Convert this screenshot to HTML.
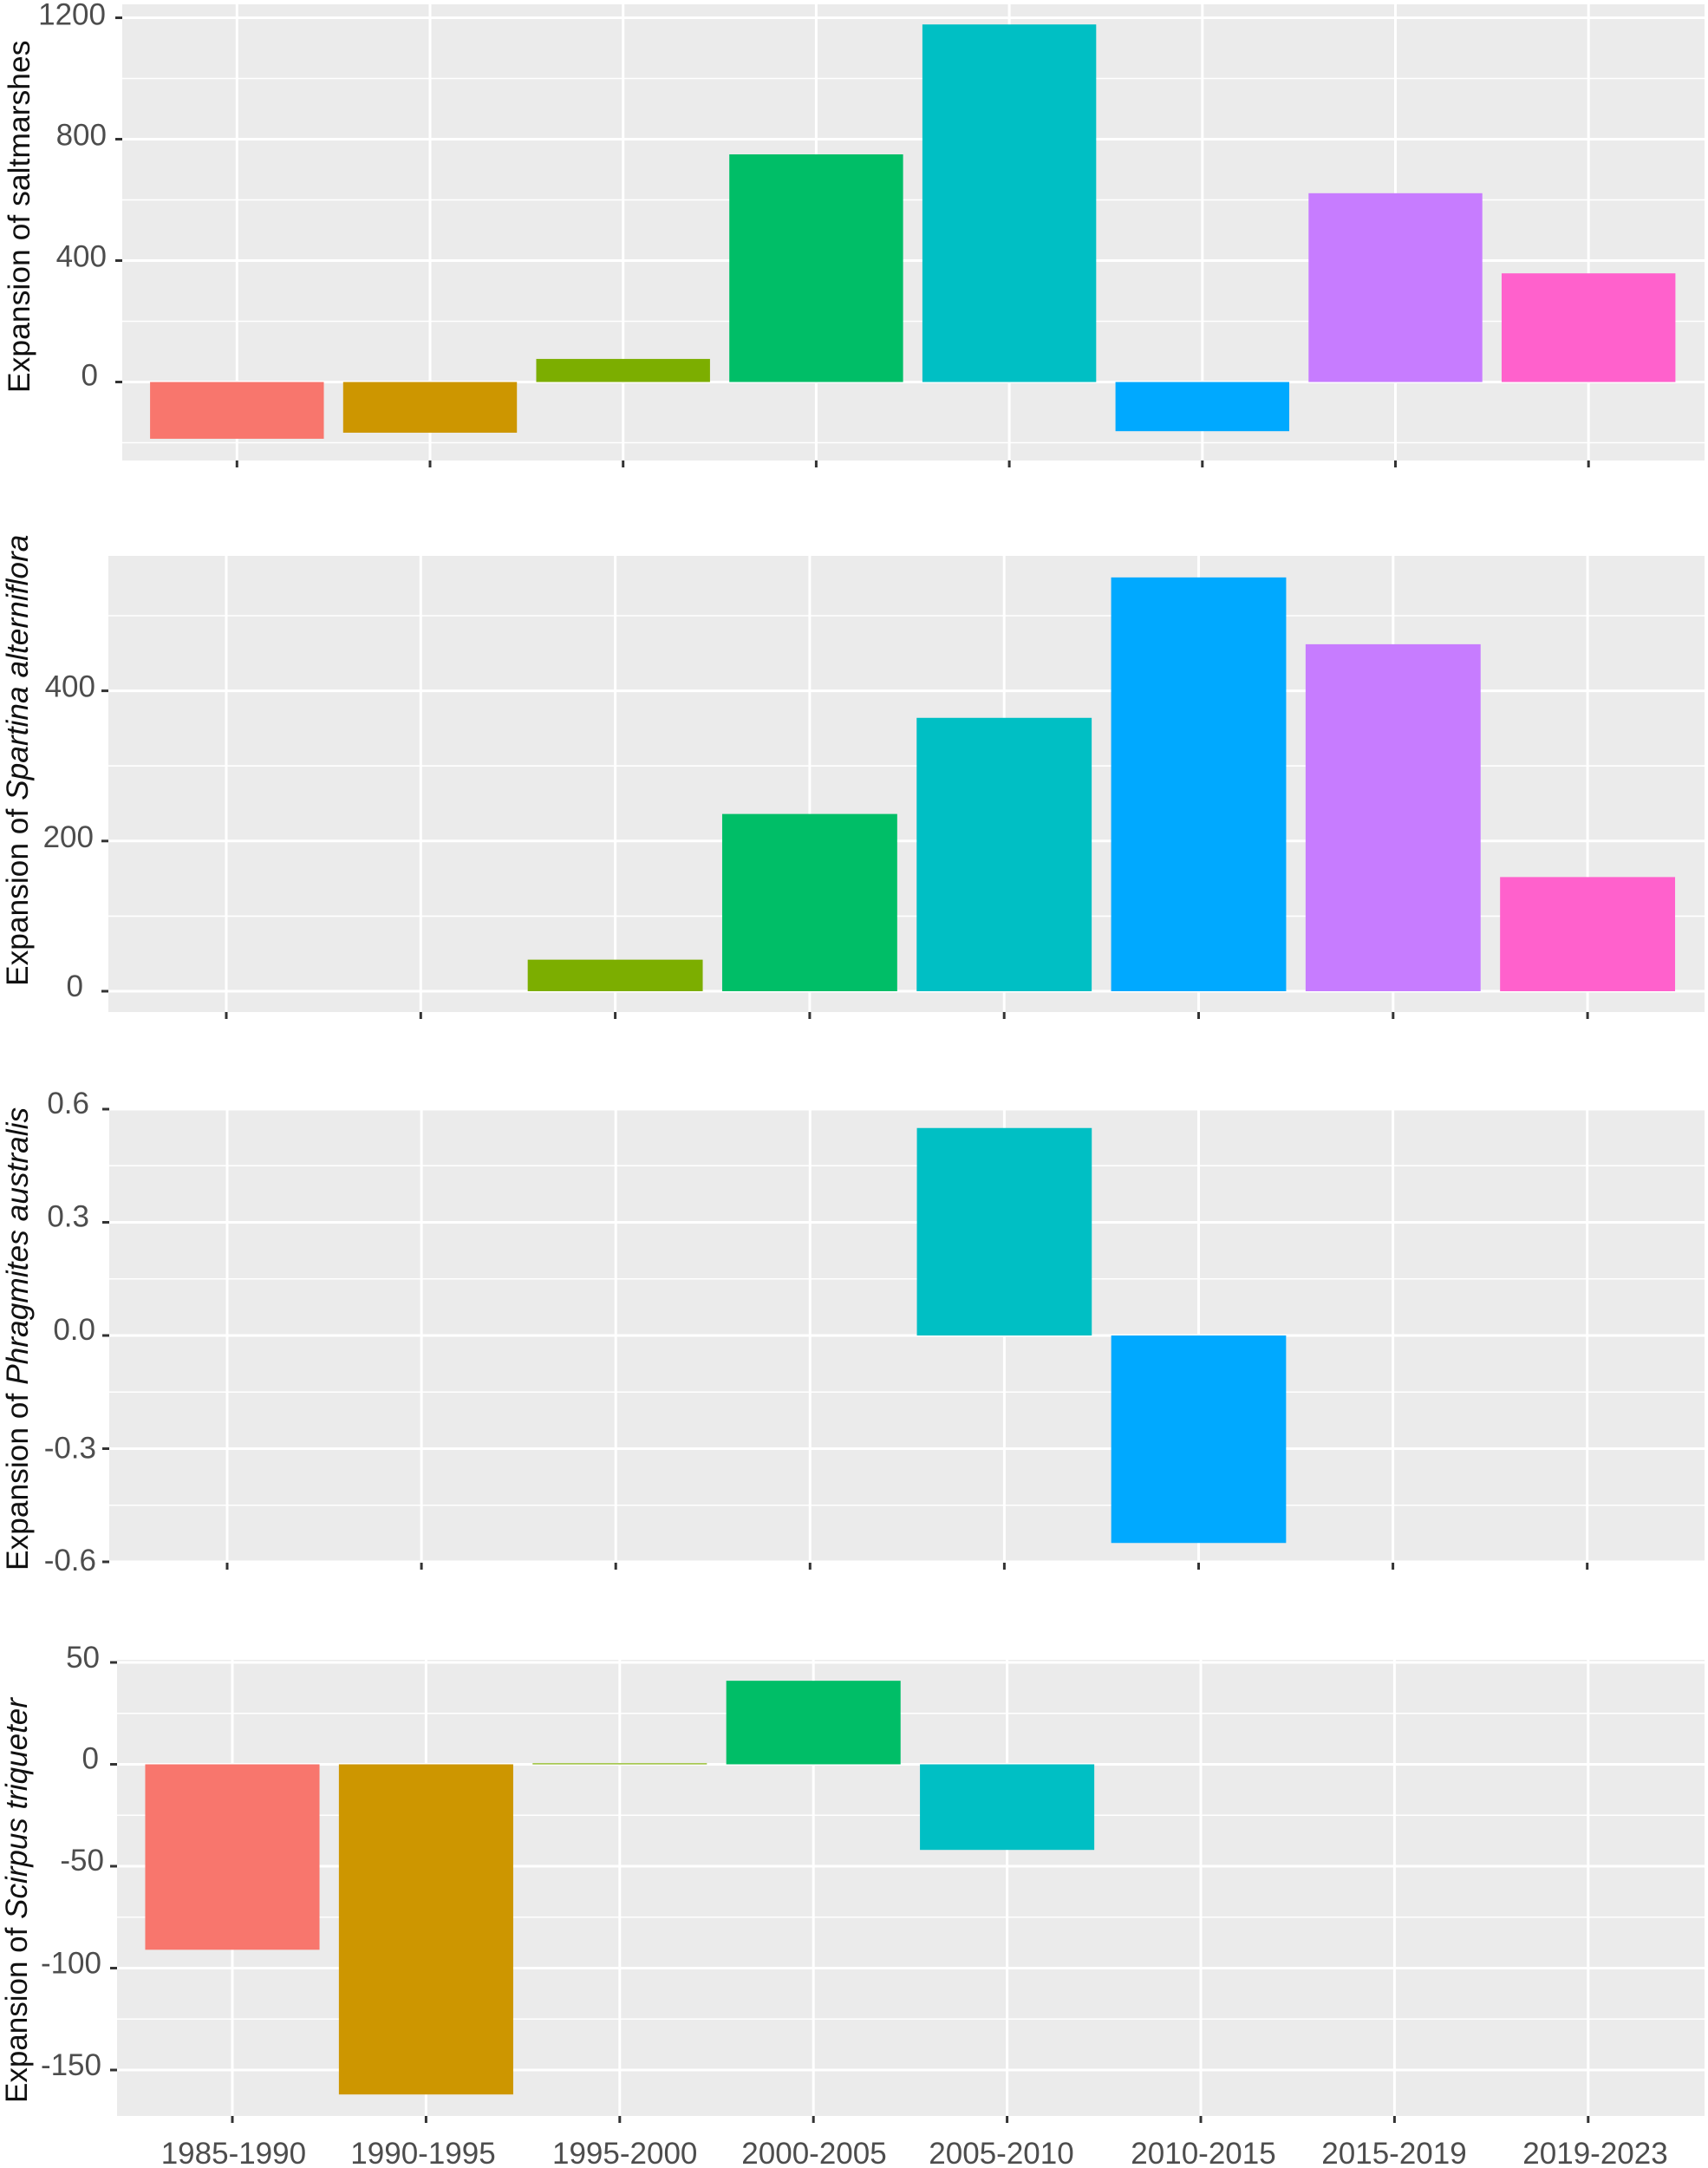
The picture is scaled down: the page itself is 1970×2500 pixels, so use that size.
<!DOCTYPE html>
<html lang="en">
<head>
<meta charset="utf-8">
<title>Expansion of saltmarshes by period</title>
<style>
html,body{margin:0;padding:0;background:#fff;width:1970px;height:2500px;overflow:hidden}
svg{display:block}
text{font-family:"Liberation Sans",Arial,sans-serif}
.tick-label{font-size:35px;fill:#4d4d4d}
.axis-title{fill:#111}
</style>
</head>
<body>
<svg id="chart" xmlns="http://www.w3.org/2000/svg" width="1970" height="2500" viewBox="0 0 1970 2500">
<text class="axis-title" font-size="35.5" transform="translate(34 453) rotate(-90)">Expansion of saltmarshes</text>
<text class="axis-title" font-size="35.35" transform="translate(32 1137) rotate(-90)">Expansion of <tspan font-style="italic">Spartina alterniflora</tspan></text>
<text class="axis-title" font-size="35.35" transform="translate(32 1811) rotate(-90)">Expansion of <tspan font-style="italic">Phragmites australis</tspan></text>
<text class="axis-title" font-size="35" transform="translate(31 2425) rotate(-90)">Expansion of <tspan font-style="italic">Scirpus triqueter</tspan></text>
</svg>
<script>
const categories = ["1985-1990","1990-1995","1995-2000","2000-2005","2005-2010","2010-2015","2015-2019","2019-2023"];
const barColors = ["#F8766D","#CD9600","#7CAE00","#00BE67","#00BFC4","#00A9FF","#C77CFF","#FF61CC"];

const saltmarshValues = [-187,-167,76,750,1178,-162,622,358];
const spartinaValues = [null,null,42,236,364,551,462,152];
const phragmitesValues = [null,null,null,null,0.55,-0.55,null,null];
const scirpusValues = [-91,-162,0.5,41,-42,null,null,null];

const saltmarshTicks = [1200,800,400,0];
const spartinaTicks = [400,200,0];
const phragmitesTicks = [0.6,0.3,0,-0.3,-0.6];
const scirpusTicks = [50,0,-50,-100,-150];

const saltmarshMinor = [1000,600,200,-200];
const spartinaMinor = [500,300,100];
const phragmitesMinor = [0.45,0.15,-0.15,-0.45];
const scirpusMinor = [25,-25,-75,-125];

const SVG_NS = "http://www.w3.org/2000/svg";
const svg = document.getElementById("chart");

function make(tag, attrs, parent) {
  const el = document.createElementNS(SVG_NS, tag);
  for (const k in attrs) el.setAttribute(k, attrs[k]);
  parent.appendChild(el);
  return el;
}

function drawPanel(p) {
  const y = v => p.zeroY - v * p.pxPerUnit;
  const x = i => p.firstX + i * p.stepX;
  const barW = p.stepX * 0.9;

  const g = make("g", {}, svg);
  
  

  const bg = make("rect", {x:p.left, y:p.top, width:p.right-p.left, height:p.bottom-p.top, fill:"#EBEBEB"}, g);
  
  

  p.minor.forEach(v => {
    const l = make("line", {x1:p.left, x2:p.right, y1:y(v), y2:y(v), stroke:"#fff", "stroke-width":1.6}, g);
    
    
  });
  p.ticks.forEach((v, i) => {
    const l = make("line", {x1:p.left, x2:p.right, y1:y(v), y2:y(v), stroke:"#fff", "stroke-width":3}, g);
    
    

    const t = make("line", {x1:p.left-8, x2:p.left, y1:y(v), y2:y(v), stroke:"#333", "stroke-width":3}, g);
    
    

    const nudge = p.labelNudge[i] || [0, 0];
    const lab = make("text", {x:p.labelRight + nudge[0], y:y(v) + 7 + nudge[1], "text-anchor":"end", class:"tick-label"}, g);
    lab.textContent = p.format(v);
    
    
  });
  categories.forEach((c, i) => {
    const l = make("line", {x1:x(i), x2:x(i), y1:p.top, y2:p.bottom, stroke:"#fff", "stroke-width":3}, g);
    
    

    const t = make("line", {x1:x(i), x2:x(i), y1:p.bottom, y2:p.bottom+8, stroke:"#333", "stroke-width":3}, g);
    
    
  });
  p.values.forEach((v, i) => {
    if (v === null) return;
    const top = Math.min(y(v), y(0));
    const h = Math.abs(y(v) - y(0));
    const b = make("rect", {x:x(i)-barW/2, y:top, width:barW, height:h, fill:barColors[i]}, g);
    
    
  });
}

const plain = v => String(v);
const oneDecimal = v => v.toFixed(1);

drawPanel({name:"saltmarshes", values:saltmarshValues, ticks:saltmarshTicks, minor:saltmarshMinor, format:plain,
  left:141, right:1966, top:5, bottom:531, zeroY:440.5, pxPerUnit:0.35, firstX:273.3, stepX:222.7,
  labelRight:123, labelNudge:[[-1,1],[0,0],[0,0],[-10,-3]]});
drawPanel({name:"spartina", values:spartinaValues, ticks:spartinaTicks, minor:spartinaMinor, format:plain,
  left:125, right:1966, top:641, bottom:1167, zeroY:1143, pxPerUnit:0.866, firstX:261, stepX:224.3,
  labelRight:110, labelNudge:[[0,0],[-2,0],[-14,-1]]});
drawPanel({name:"phragmites", values:phragmitesValues, ticks:phragmitesTicks, minor:phragmitesMinor, format:oneDecimal,
  left:126, right:1966, top:1279, bottom:1802, zeroY:1540, pxPerUnit:435, firstX:262, stepX:224.1,
  labelRight:110, labelNudge:[[-7,-2],[-7,-2],[0,-2],[1,4],[1,3]]});
drawPanel({name:"scirpus", values:scirpusValues, ticks:scirpusTicks, minor:scirpusMinor, format:plain,
  left:135, right:1966, top:1914, bottom:2440, zeroY:2034.5, pxPerUnit:2.35, firstX:268, stepX:223.4,
  labelRight:117, labelNudge:[[-2,-1],[-3,-2],[3,-2],[0,-1],[0,-1]]});

const xLabelCenters = [269.4,488,720.7,939,1155,1388,1608,1840];
categories.forEach((c, i) => {
  const lab = make("text", {x:xLabelCenters[i], y:2495, "text-anchor":"middle", class:"tick-label"}, svg);
  lab.textContent = c;
  
  
});
</script>
</body>
</html>
